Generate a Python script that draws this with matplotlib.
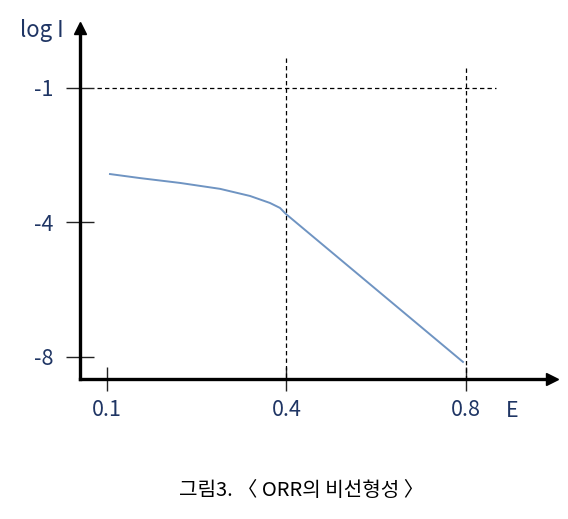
import matplotlib
matplotlib.use("Agg")
import matplotlib.pyplot as plt

plt.rcParams['font.family'] = ['Noto Sans CJK KR', 'DejaVu Sans']

# tick labels (equally spaced positions on both axes)
e_labels = ["0.1", "0.4", "0.8"]
e_pos = [0, 1, 2]
logi_labels = ["-1", "-4", "-8"]
logi_pos = [0, -1, -2]

# ORR curve (in tick-position units)
curve_x = [0.017, 0.184, 0.407, 0.63, 0.797, 0.908, 0.964, 0.997, 1.983]
curve_y = [-0.64, -0.67, -0.706, -0.75, -0.803, -0.855, -0.892, -0.937, -2.037]

label_color = "#1f3564"
line_color = "#6f94c2"

W, H = 568, 519
fig = plt.figure(figsize=(W / 100, H / 100), dpi=100)
ax = fig.add_axes([80 / W, (H - 379) / H, (552 - 80) / W, (379 - 28) / H])
ax.set_xlim(-0.150, 2.479)
ax.set_ylim(-2.164, 0.446)

for s in ["top", "right"]:
    ax.spines[s].set_visible(False)
for s in ["left", "bottom"]:
    ax.spines[s].set_linewidth(2.4)
    ax.spines[s].set_color("black")

# arrow heads
ax.plot(1, -2.164, ">k", markersize=8, transform=ax.get_yaxis_transform(), clip_on=False)
ax.plot(-0.150, 1, "^k", markersize=8, transform=ax.get_xaxis_transform(), clip_on=False)

ax.set_xticks(e_pos)
ax.set_xticklabels(e_labels)
ax.set_yticks(logi_pos)
ax.set_yticklabels(logi_labels)
ax.tick_params(axis="x", direction="inout", length=17, width=1.0, color="#222222",
               labelsize=15.5, labelcolor=label_color, pad=6)
ax.tick_params(axis="y", direction="inout", length=20, width=1.0, color="#222222",
               labelsize=15.5, labelcolor=label_color, pad=9)

# dashed guides
ax.plot([-0.056, 2.167], [0, 0], color="black", lw=0.9, dashes=(3.5, 2.5))
ax.plot([1, 1], [0.223, -2.164], color="black", lw=0.9, dashes=(3.5, 2.5))
ax.plot([2, 2], [0.149, -2.164], color="black", lw=0.9, dashes=(3.5, 2.5))

ax.plot(curve_x, curve_y, color=line_color, lw=1.4)

ax.text(-0.365, 0.43, "log I", fontsize=16, color=label_color, ha="center", va="center")
ax.text(2.255, -2.4, "E", fontsize=15.5, color=label_color, ha="center", va="center")

fig.text(301 / W, 1 - 490 / H, "그림3. 〈 ORR의 비선형성 〉", fontsize=14.5,
         color="black", ha="center", va="center")

fig.savefig("out.png", dpi=100)
